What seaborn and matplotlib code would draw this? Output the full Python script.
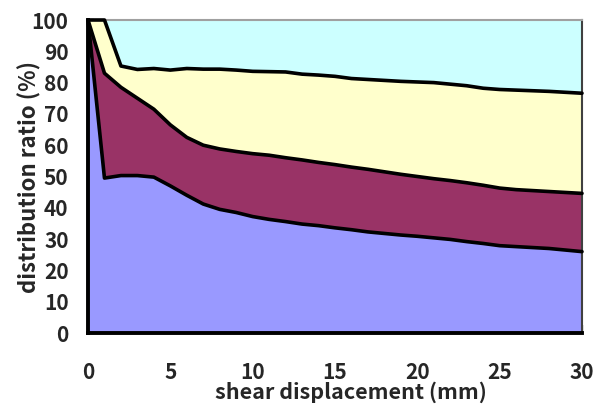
import matplotlib
matplotlib.use("Agg")
import matplotlib.pyplot as plt
import seaborn as sns
import numpy as np
import pandas as pd
from matplotlib.ticker import MultipleLocator, FuncFormatter

# shear displacement (mm)
displacement = list(range(0, 31))

# cumulative distribution ratio (%) at the top of each band
band1_top = [100, 49.5, 50.3, 50.3, 49.8, 47.0, 44.0, 41.2, 39.5, 38.5, 37.2,
             36.3, 35.6, 34.8, 34.3, 33.6, 33.0, 32.3, 31.8, 31.3, 30.9,
             30.4, 29.9, 29.2, 28.6, 27.9, 27.6, 27.3, 27.0, 26.5, 26.0]
band2_top = [100, 83.0, 78.5, 75.0, 71.5, 66.5, 62.5, 60.0, 58.8, 58.0, 57.3,
             56.8, 56.0, 55.3, 54.5, 53.8, 53.0, 52.3, 51.5, 50.7, 50.0,
             49.3, 48.7, 48.0, 47.2, 46.3, 45.8, 45.5, 45.2, 44.9, 44.6]
band3_top = [100, 100, 85.3, 84.2, 84.5, 84.0, 84.5, 84.3, 84.3, 84.0, 83.6,
             83.5, 83.4, 82.7, 82.4, 82.0, 81.3, 81.0, 80.7, 80.4, 80.2,
             80.0, 79.5, 79.0, 78.2, 77.8, 77.6, 77.4, 77.2, 76.9, 76.6]
band4_top = [100] * 31

band_colors = ["#9999FF", "#993366", "#FFFFCC", "#CCFFFF"]

sns.set_style("white")
plt.rcParams["font.family"] = ["Noto Sans CJK JP", "DejaVu Sans"]

df = pd.DataFrame({"x": displacement, "b1": band1_top, "b2": band2_top,
                   "b3": band3_top, "b4": band4_top})

fig = plt.figure(figsize=(5.97, 4.07), dpi=100)
ax = fig.add_axes([88 / 597, 1 - 333 / 407, (582 - 88) / 597, (333 - 20) / 407])

lower = np.zeros(len(df))
for col, color in zip(["b1", "b2", "b3", "b4"], band_colors):
    ax.fill_between(df["x"], lower, df[col], color=color, linewidth=0, zorder=1)
    lower = df[col].to_numpy()

for col in ["b1", "b2", "b3"]:
    sns.lineplot(data=df, x="x", y=col, ax=ax, color="black", linewidth=2.6,
                 zorder=3, clip_on=False, legend=False)

ax.set_xlim(0, 30)
ax.set_ylim(0, 100)

ax.xaxis.set_major_locator(MultipleLocator(1))
ax.xaxis.set_major_formatter(FuncFormatter(lambda v, p: f"{int(round(v))}" if int(round(v)) % 5 == 0 else ""))
ax.yaxis.set_major_locator(MultipleLocator(10))

ax.tick_params(axis="x", direction="in", length=6, width=1.6, color="black",
               pad=21, labelsize=15, bottom=True)
ax.tick_params(axis="y", direction="in", length=4, width=1.6, color="black",
               pad=14, labelsize=15, left=True)
for lbl in ax.get_xticklabels() + ax.get_yticklabels():
    lbl.set_fontweight("bold")

for side in ["left", "bottom"]:
    ax.spines[side].set_color("black")
    ax.spines[side].set_linewidth(2.8)
    ax.spines[side].set_zorder(5)
ax.spines["top"].set_color("#a0a0a0")
ax.spines["top"].set_linewidth(1.5)
ax.spines["right"].set_color("#404040")
ax.spines["right"].set_linewidth(1.5)

ax.set_xlabel("shear displacement (mm)", fontsize=15.5, fontweight="bold")
ax.xaxis.set_label_coords(0.533, -0.21)
ax.xaxis.label.set_verticalalignment("baseline")
ax.set_ylabel("distribution ratio (%)", fontsize=16, fontweight="bold", labelpad=-7)

fig.savefig("out.png", dpi=100, facecolor="white")
